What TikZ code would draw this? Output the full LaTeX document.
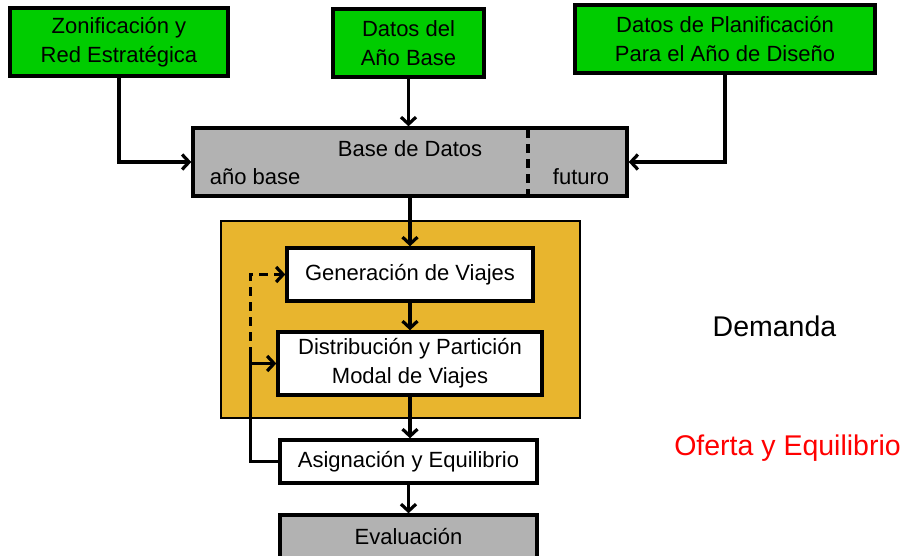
\documentclass[tikz,border=0pt]{standalone}
\usepackage{fontspec}
\setmainfont{Liberation Sans}
\usetikzlibrary{arrows.meta,positioning,calc}
\definecolor{modGreen}{HTML}{00CC00}
\definecolor{modGray}{HTML}{B2B2B2}
\definecolor{modGold}{HTML}{E8B52E}
\definecolor{modRed}{HTML}{FF0000}

\begin{document}
\begin{tikzpicture}[x=1pt,y=-1pt,font=\fontsize{22}{29}\selectfont,
    inbox/.style={draw=black,fill=modGreen,line width=3.4pt,align=center,
                  inner sep=0pt,minimum height=68pt},
    dbbox/.style={draw=black,fill=modGray,line width=3.4pt,inner sep=0pt},
    stagebox/.style={draw=black,fill=white,line width=3.4pt,align=center,inner sep=0pt},
    frame/.style={draw=black,fill=modGold,line width=2.8pt,inner sep=0pt},
    tag/.style={font=\fontsize{28.5}{34}\selectfont},
    arr/.style={-{Straight Barb[length=7pt,width=15pt]},line width=3.2pt},
    link/.style={line width=3.2pt}]
  \useasboundingbox (0,0) rectangle (909,556);
  % entradas
  \node[inbox,minimum width=218pt] (zona) at (119,42)   {Zonificación y\\Red Estratégica};
  \node[inbox,minimum width=151pt] (anio) at (408.5,43) {Datos del\\Año Base};
  \node[inbox,minimum width=300pt] (plan) at (725,39)   {Datos de Planificación\\Para el Año de Diseño};
  % base de datos
  \node[dbbox,minimum width=434pt,minimum height=68pt] (bd) at (410,162) {};
  \draw[line width=3.4pt,dash pattern=on 9pt off 6pt]
    ([xshift=118pt,yshift=-3pt]bd.north) -- ([xshift=118pt,yshift=3pt]bd.south);
  \node at ([yshift=13pt]bd.center) {Base de Datos};
  \node[anchor=base west] (bdl) at ([xshift=15pt,yshift=-23pt]bd.west) {año base};
  \node[anchor=base east] (bdr) at ([xshift=-16pt,yshift=-23pt]bd.east) {futuro};
  % demanda
  \node[frame,minimum width=359pt,minimum height=197pt] (marco) at (400.5,319.5) {};
  \node[stagebox,minimum width=246pt,minimum height=53pt] (gen)  at (410,274.5) {Generación de Viajes};
  \node[stagebox,minimum width=264pt,minimum height=63pt] (dist) at (410,363.5) {Distribución y Partición\\Modal de Viajes};
  \node[stagebox,minimum width=257pt,minimum height=43pt] (asig) at (408.5,461.5) {Asignación y Equilibrio};
  \node[dbbox,minimum width=257pt,minimum height=44pt] (eval) at (408.5,537) {Evaluación};
  \node[tag,anchor=base] (dem) at (774.5,336) {Demanda};
  \node[tag,anchor=base,text=modRed] (ofe) at (787.5,455) {Oferta y Equilibrio};
  % conectores
  \draw[arr] (zona.south) |- (bd.west);
  \draw[arr] (plan.south) |- (bd.east);
  \draw[arr] (anio.south) -- (anio.south |- bd.north);
  \draw[arr] (bd.south) -- (gen.north);
  \draw[arr] (gen.south) -- (dist.north);
  \draw[arr] (dist.south) -- (dist.south |- asig.north);
  \draw[arr] (asig.south) -- (asig.south |- eval.north);
  \coordinate (fbs) at ([xshift=-26pt]dist.west);
  \coordinate (fbd) at (fbs |- gen.west);
  \draw[link] (asig.west) -| ([yshift=8pt]fbs);
  \draw[arr] (fbs) -- (dist.west);
  \draw[arr,dash pattern=on 9pt off 6pt] ([yshift=8pt]fbs) -- (fbd) -- (gen.west);
\end{tikzpicture}
\end{document}
